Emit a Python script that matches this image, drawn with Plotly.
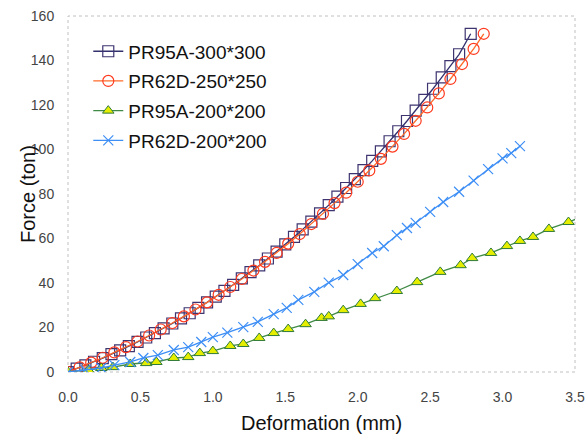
import plotly.graph_objects as go

names = ["PR95A-300*300", "PR62D-250*250", "PR95A-200*200", "PR62D-200*200"]

sq_x = [0.00, 0.06, 0.12, 0.18, 0.24, 0.30, 0.36, 0.42, 0.48, 0.54, 0.60, 0.66, 0.72, 0.78,
        0.84, 0.90, 0.96, 1.02, 1.08, 1.14, 1.20, 1.26, 1.32, 1.38, 1.44, 1.50, 1.56, 1.62,
        1.68, 1.74, 1.80, 1.86, 1.92, 1.98, 2.04, 2.10, 2.16, 2.22, 2.28, 2.34, 2.40, 2.46,
        2.52, 2.58, 2.64, 2.70, 2.78]
sq_y = [0.0, 1.5, 3.0, 4.6, 6.2, 8.0, 9.7, 11.6, 13.5, 15.5, 17.5, 19.6, 21.8, 24.1,
        26.4, 28.8, 31.3, 33.9, 36.5, 39.2, 42.1, 44.9, 47.9, 51.0, 54.1, 57.4, 60.7, 64.1,
        67.6, 71.3, 75.0, 78.8, 82.7, 86.7, 90.7, 94.9, 99.2, 103.7, 108.2, 112.8, 117.5, 122.3,
        127.3, 132.4, 137.5, 142.8, 152.0]

ci_x = [0.00, 0.08, 0.16, 0.24, 0.32, 0.40, 0.48, 0.56, 0.64, 0.72, 0.80, 0.88, 0.96, 1.04,
        1.12, 1.20, 1.28, 1.36, 1.44, 1.52, 1.60, 1.68, 1.76, 1.84, 1.92, 2.00, 2.08, 2.16,
        2.24, 2.32, 2.40, 2.48, 2.56, 2.64, 2.72, 2.80, 2.87]
ci_y = [0.0, 2.1, 4.2, 6.4, 8.8, 11.2, 13.7, 16.4, 19.1, 22.0, 25.0, 28.1, 31.3, 34.7,
        38.2, 41.8, 45.6, 49.5, 53.5, 57.7, 62.0, 66.5, 71.1, 75.9, 80.6, 85.5, 90.6, 95.8,
        101.3, 107.0, 112.9, 118.9, 125.2, 131.7, 138.4, 145.2, 152.0]

tr_x = [0.00, 0.14, 0.23, 0.31, 0.43, 0.54, 0.61, 0.73, 0.83, 0.91, 1.00, 1.12, 1.21, 1.32,
        1.42, 1.52, 1.64, 1.75, 1.80, 1.90, 2.02, 2.12, 2.27, 2.41, 2.57, 2.71, 2.79, 2.92,
        3.03, 3.12, 3.21, 3.32, 3.455, 3.56]
tr_y = [0.0, 0.9, 1.8, 2.2, 3.6, 4.0, 4.5, 6.3, 6.7, 8.5, 9.4, 11.7, 12.6, 15.3,
        17.5, 19.3, 21.5, 24.3, 25.0, 27.8, 30.6, 33.2, 36.4, 40.4, 45.0, 48.0, 51.2, 53.5,
        56.6, 58.9, 60.7, 64.3, 67.4, 70.0]

bx_x = [0.00, 0.12, 0.23, 0.32, 0.43, 0.52, 0.62, 0.73, 0.83, 0.92, 1.00, 1.10, 1.21, 1.31,
        1.42, 1.51, 1.59, 1.70, 1.80, 1.90, 2.00, 2.10, 2.18, 2.27, 2.34, 2.40, 2.50, 2.59,
        2.70, 2.80, 2.90, 3.00, 3.06, 3.12]
bx_y = [0.0, 0.9, 1.8, 3.1, 4.5, 6.3, 7.6, 9.9, 11.2, 13.5, 15.7, 17.7, 20.2, 22.5,
        26.0, 28.8, 32.4, 36.0, 40.2, 43.6, 48.5, 53.5, 56.5, 61.5, 64.7, 67.0, 72.0, 76.4,
        81.0, 86.0, 91.2, 96.0, 98.4, 101.5]

x_ticks = [0.0, 0.5, 1.0, 1.5, 2.0, 2.5, 3.0, 3.5]
y_ticks = [0, 20, 40, 60, 80, 100, 120, 140, 160]

fig = go.Figure()
fig.add_trace(go.Scatter(x=sq_x, y=sq_y, name=names[0], legendgroup="a", mode="lines+markers",
                         line=dict(color="#33306e", width=1.3),
                         marker=dict(symbol="square-open", size=11, color="#3d3470",
                                     line=dict(width=1.2))))
fig.add_trace(go.Scatter(x=ci_x, y=ci_y, name=names[1], legendgroup="b", mode="lines+markers",
                         line=dict(color="#ff6a2a", width=1.3),
                         marker=dict(symbol="circle-open", size=11, color="#ff3a1f",
                                     line=dict(width=1.2))))
fig.add_trace(go.Scatter(x=tr_x, y=tr_y, name=names[2], legendgroup="c", mode="lines+markers",
                         line=dict(color="#3f8a45", width=1.3),
                         marker=dict(symbol="triangle-up", size=10, color="#e6ee00",
                                     line=dict(color="#2f7a3a", width=1))))
fig.add_trace(go.Scatter(x=bx_x, y=bx_y, name=names[3], legendgroup="d", mode="lines+markers",
                         line=dict(color="#3d8ef5", width=1.3),
                         marker=dict(symbol="x-thin-open", size=10, color="#3d8ef5",
                                     line=dict(color="#3d8ef5", width=1.2))))

fig.add_shape(type="rect", xref="paper", yref="paper", x0=0, y0=0, x1=1, y1=1,
              line=dict(color="#c0c0c0", width=1, dash="dot"), layer="below")

fig.add_annotation(text="Force (ton)", xref="paper", yref="paper",
                   x=(28 - 68) / 507, y=0.5, textangle=-90, showarrow=False,
                   xanchor="center", yanchor="middle",
                   font=dict(size=20, color="#111111"))
fig.add_annotation(text="Deformation (mm)", xref="paper", yref="paper",
                   x=0.5, y=(372 - 423) / 356, showarrow=False,
                   xanchor="center", yanchor="middle",
                   font=dict(size=20, color="#111111"))

fig.update_layout(
    width=588, height=437,
    margin=dict(l=68, r=13, t=16, b=65, autoexpand=False),
    paper_bgcolor="white", plot_bgcolor="white",
    font=dict(family="Liberation Sans, Arial, sans-serif", color="#222222"),
    showlegend=True,
    legend=dict(x=0.04, y=0.954, xanchor="left", yanchor="top",
                bgcolor="rgba(255,255,255,0)", font=dict(size=19, color="#111111"),
                itemwidth=30, tracegroupgap=2),
    xaxis=dict(range=[0, 3.5], tickvals=x_ticks, ticktext=[f"{v:.1f}" for v in x_ticks],
               showgrid=False, zeroline=False, showline=False, automargin=False,
               ticks="outside", ticklen=12, tickcolor="rgba(0,0,0,0)",
               tickfont=dict(size=14, color="#444444")),
    yaxis=dict(range=[0, 160], tickvals=y_ticks, showgrid=False, zeroline=False, showline=False,
               automargin=False,
               ticks="outside", ticklen=10, tickcolor="rgba(0,0,0,0)",
               tickfont=dict(size=14, color="#444444")),
)

fig.write_html("out.html")
